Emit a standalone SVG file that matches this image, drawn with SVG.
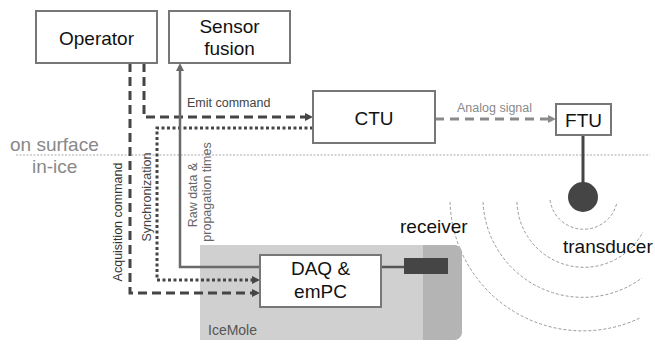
<svg xmlns="http://www.w3.org/2000/svg" width="655" height="344" viewBox="0 0 655 344">
<style>
  .box { fill: #fff; stroke: #777; stroke-width: 2; }
  .lbl { font-family: "Liberation Sans", Arial, sans-serif; fill: #111; font-size: 19px; text-anchor: middle; }
  .small { font-family: "Liberation Sans", Arial, sans-serif; font-size: 12.5px; }
  .dash { fill: none; stroke: #454545; stroke-width: 3; stroke-dasharray: 9 5; }
  .dot { fill: none; stroke: #454545; stroke-width: 3; stroke-dasharray: 3 2.5; }
  .solid { fill: none; stroke: #6a6a6a; stroke-width: 2.5; }
  .wave { fill: none; stroke: #999; stroke-width: 1; stroke-dasharray: 3 2; }
</style>
<defs>
  <marker id="arrD" markerUnits="userSpaceOnUse" markerWidth="9" markerHeight="9" refX="2" refY="4" orient="auto">
    <path d="M0,0 L8,4 L0,8 z" fill="#454545"/>
  </marker>
  <marker id="arrS" markerUnits="userSpaceOnUse" markerWidth="9" markerHeight="9" refX="2" refY="4" orient="auto">
    <path d="M0,0 L8,4 L0,8 z" fill="#6a6a6a"/>
  </marker>
  <marker id="arrG" markerUnits="userSpaceOnUse" markerWidth="9" markerHeight="9" refX="2" refY="4" orient="auto">
    <path d="M0,0 L8,4 L0,8 z" fill="#8a8a8a"/>
  </marker>
</defs>

<!-- surface line and labels -->
<line x1="16" y1="155" x2="650" y2="155" stroke="#aaa" stroke-width="1" stroke-dasharray="2 1.5"/>
<text x="10" y="151" font-family="Liberation Sans, Arial, sans-serif" font-size="19" fill="#888">on surface</text>
<text x="32" y="173" font-family="Liberation Sans, Arial, sans-serif" font-size="19" fill="#888">in-ice</text>

<!-- waves -->
<g id="waves">
  <path class="wave" d="M550,200 A34,34 0 0 0 617,202"/>
  <path class="wave" d="M517,202 A67,67 0 0 0 643,232"/>
  <path class="wave" d="M483,202 A100,100 0 0 0 642,278"/>
  <path class="wave" d="M450,202 A133,133 0 0 0 640,318"/>
</g>

<!-- IceMole -->
<g id="icemole">
  <path d="M200,245 H454 A8,8 0 0 1 462,253 V332 A8,8 0 0 1 454,340 H200 Z" fill="#d0d0d0"/>
  <path d="M423,245 H454 A8,8 0 0 1 462,253 V332 A8,8 0 0 1 454,340 H423 Z" fill="#b4b4b4"/>
  <text x="208" y="335" font-family="Liberation Sans, Arial, sans-serif" font-size="14" fill="#555">IceMole</text>
</g>

<g id="connectors">
  <path class="dash" d="M130,63 V293 H254" marker-end="url(#arrD)"/>
  <path class="dash" d="M144,63 V117 H307" marker-end="url(#arrD)"/>
  <path class="dot" d="M313,128 H157 V280 H254" marker-end="url(#arrD)"/>
  <path class="solid" d="M260,267 H180 V69" marker-end="url(#arrS)"/>
  <path fill="none" stroke="#8a8a8a" stroke-width="3" stroke-dasharray="9 6" d="M435,119 H550" marker-end="url(#arrG)"/>
  <line x1="583" y1="135" x2="583" y2="185" stroke="#454545" stroke-width="3"/>
  <line x1="381" y1="267" x2="404" y2="267" stroke="#555" stroke-width="2.5"/>
  <text class="small" x="187" y="107" fill="#444">Emit command</text>
  <text class="small" x="457" y="112" fill="#8a8a8a">Analog signal</text>
  <text class="small" transform="translate(122,222) rotate(-90)" text-anchor="middle" fill="#333">Acquisition command</text>
  <text class="small" transform="translate(151,197) rotate(-90)" text-anchor="middle" fill="#444">Synchronization</text>
  <text class="small" transform="translate(197,195) rotate(-90)" text-anchor="middle" fill="#666">Raw data &amp;</text>
  <text class="small" transform="translate(211,192) rotate(-90)" text-anchor="middle" fill="#666">propagation times</text>
</g>

<g id="operator">
  <rect class="box" x="36" y="11" width="121" height="52"/>
  <text class="lbl" x="96.5" y="45">Operator</text>
</g>
<g id="sensor-fusion">
  <rect class="box" x="169" y="11" width="121" height="52"/>
  <text class="lbl" x="229.5" y="33">Sensor</text>
  <text class="lbl" x="229.5" y="55">fusion</text>
</g>
<g id="ctu">
  <rect class="box" x="313" y="91" width="122" height="52"/>
  <text class="lbl" x="374" y="125">CTU</text>
</g>
<g id="ftu">
  <rect class="box" x="556" y="104" width="55" height="31"/>
  <text class="lbl" x="583.5" y="127">FTU</text>
</g>
<g id="daq">
  <rect class="box" x="260" y="255" width="121" height="52"/>
  <text class="lbl" x="320.5" y="275">DAQ &amp;</text>
  <text class="lbl" x="320.5" y="298">emPC</text>
</g>
<g id="receiver">
  <rect x="404" y="258" width="44" height="16" fill="#454545"/>
  <text x="400" y="233" font-family="Liberation Sans, Arial, sans-serif" font-size="19" fill="#111">receiver</text>
</g>
<g id="transducer">
  <circle cx="583" cy="197" r="15" fill="#454545"/>
  <text x="563" y="253" font-family="Liberation Sans, Arial, sans-serif" font-size="19" fill="#111">transducer</text>
</g>
</svg>
